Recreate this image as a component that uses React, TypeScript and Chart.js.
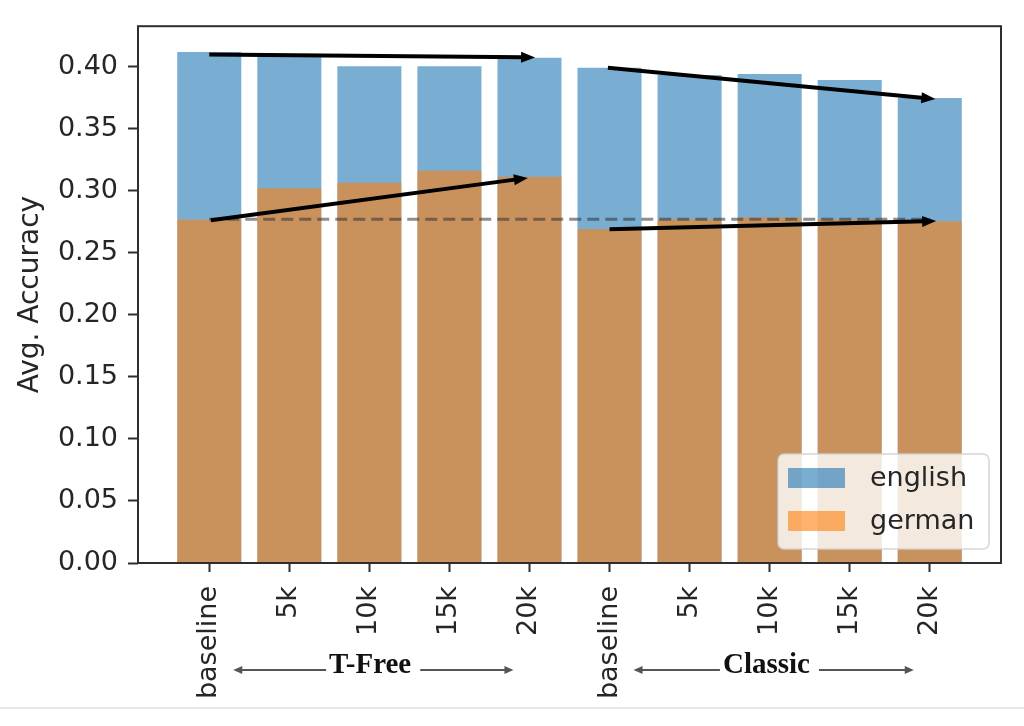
import { useEffect, useRef } from 'react';
import { Chart, registerables } from 'chart.js';

Chart.register(...registerables);

const categories = ['baseline', '5k', '10k', '15k', '20k', 'baseline', '5k', '10k', '15k', '20k'];
const englishAcc = [0.412, 0.4086, 0.4006, 0.4006, 0.4073, 0.3993, 0.3934, 0.3942, 0.3895, 0.3749];
const germanAcc = [0.2769, 0.3022, 0.3065, 0.3163, 0.3115, 0.2693, 0.2772, 0.2785, 0.2772, 0.2756];
const yTicks = [0, 0.05, 0.1, 0.15, 0.2, 0.25, 0.3, 0.35, 0.4];
const seriesNames = ['english', 'german'];
const referenceLevel = 0.2772;
const referenceSpan = [0, 9];

// trend arrows (data coordinates)
const arrowFromX = [0, 0.02, 4.98, 5.0];
const arrowFromY = [0.41, 0.2764, 0.3993, 0.269];
const arrowToX = [4.07, 3.98, 9.07, 9.08];
const arrowToY = [0.4076, 0.3105, 0.3741, 0.2757];

// group annotations under the x axis
const groupLabels = ['T-Free', 'Classic'];
const groupStart = [0.3, 5.3];
const groupEnd = [3.8, 8.8];
const groupCenter = [2.01, 6.96];

const TEXT = '#262626';
const SPINE = '#2e2e2e';
const BLUE = 'rgba(31,119,180,0.6)';
const ORANGE = 'rgba(255,127,14,0.6)';

function arrow(ctx: CanvasRenderingContext2D, x1: number, y1: number, x2: number, y2: number, lw: number, hl: number, hw: number, color: string) {
  const a = Math.atan2(y2 - y1, x2 - x1);
  const c = Math.cos(a);
  const s = Math.sin(a);
  ctx.save();
  ctx.strokeStyle = color;
  ctx.fillStyle = color;
  ctx.lineWidth = lw;
  ctx.lineCap = 'butt';
  ctx.beginPath();
  ctx.moveTo(x1, y1);
  ctx.lineTo(x2 - c * hl * 0.8, y2 - s * hl * 0.8);
  ctx.stroke();
  ctx.beginPath();
  ctx.moveTo(x2, y2);
  ctx.lineTo(x2 - c * hl - s * hw / 2, y2 - s * hl + c * hw / 2);
  ctx.lineTo(x2 - c * hl + s * hw / 2, y2 - s * hl - c * hw / 2);
  ctx.closePath();
  ctx.fill();
  ctx.restore();
}

const overlayPlugin = {
  id: 'overlay',
  afterDraw(chart: any) {
    const ctx: CanvasRenderingContext2D = chart.ctx;
    const xs = chart.scales.x;
    const ys = chart.scales.y;
    const area = chart.chartArea;

    // dashed reference line
    ctx.save();
    ctx.strokeStyle = 'rgba(50,50,50,0.55)';
    ctx.lineWidth = 3;
    ctx.setLineDash([12, 6]);
    ctx.beginPath();
    ctx.moveTo(xs.getPixelForValue(referenceSpan[0]), ys.getPixelForValue(referenceLevel));
    ctx.lineTo(xs.getPixelForValue(referenceSpan[1]), ys.getPixelForValue(referenceLevel));
    ctx.stroke();
    ctx.restore();

    // trend arrows
    for (let i = 0; i < arrowFromX.length; i++) {
      arrow(
        ctx,
        xs.getPixelForValue(arrowFromX[i]),
        ys.getPixelForValue(arrowFromY[i]),
        xs.getPixelForValue(arrowToX[i]),
        ys.getPixelForValue(arrowToY[i]),
        4, 14, 11, '#000'
      );
    }

    // spines
    ctx.save();
    ctx.strokeStyle = SPINE;
    ctx.lineWidth = 2;
    ctx.strokeRect(area.left, area.top, area.right - area.left, area.bottom - area.top);
    ctx.restore();

    // legend
    const lw = 211;
    const lh = 95;
    const lx = area.right - 12 - lw;
    const ly = area.bottom - 14 - lh;
    ctx.save();
    ctx.fillStyle = 'rgba(255,255,255,0.8)';
    ctx.strokeStyle = 'rgba(210,210,210,0.9)';
    ctx.lineWidth = 1.5;
    ctx.beginPath();
    ctx.roundRect(lx, ly, lw, lh, 6);
    ctx.fill();
    ctx.stroke();
    const colors = [BLUE, ORANGE];
    ctx.font = '27px "DejaVu Sans"';
    ctx.textBaseline = 'middle';
    ctx.textAlign = 'left';
    for (let i = 0; i < seriesNames.length; i++) {
      const cy = ly + 24 + i * 43;
      ctx.fillStyle = colors[i];
      ctx.fillRect(lx + 10, cy - 10, 57, 20);
      ctx.fillStyle = TEXT;
      ctx.fillText(seriesNames[i], lx + 92, cy + 1);
    }
    ctx.restore();

    // group annotations
    ctx.save();
    ctx.font = 'bold 29px "Liberation Serif"';
    ctx.textAlign = 'center';
    ctx.textBaseline = 'alphabetic';
    const ty = area.bottom + 110;
    const ay = area.bottom + 107;
    for (let i = 0; i < groupLabels.length; i++) {
      const cx = xs.getPixelForValue(groupCenter[i]);
      const w = ctx.measureText(groupLabels[i]).width;
      ctx.fillStyle = '#111';
      ctx.fillText(groupLabels[i], cx, ty);
      const x0 = xs.getPixelForValue(groupStart[i]);
      const x1 = xs.getPixelForValue(groupEnd[i]);
      arrow(ctx, cx - w / 2 - 3, ay, x0, ay, 1.8, 9, 8, '#555');
      arrow(ctx, cx + w / 2 + 9, ay, x1, ay, 1.8, 9, 8, '#555');
    }
    ctx.restore();

    // faint bottom border of the picture
    ctx.save();
    ctx.strokeStyle = '#e6e6e6';
    ctx.lineWidth = 2;
    ctx.beginPath();
    ctx.moveTo(0, 708);
    ctx.lineTo(chart.width, 708);
    ctx.stroke();
    ctx.restore();
  },
};

export default function App() {
  const ref = useRef<HTMLCanvasElement | null>(null);

  useEffect(() => {
    if (!ref.current) return;
    const tickFont = { family: 'DejaVu Sans', size: 27 };
    const chart = new Chart(ref.current, {
      type: 'bar',
      data: {
        datasets: [
          {
            label: seriesNames[0],
            data: englishAcc.map((v, i) => ({ x: i, y: v })),
            backgroundColor: BLUE,
            borderWidth: 0,
            grouped: false,
            barPercentage: 0.8,
            categoryPercentage: 1,
            order: 1,
          },
          {
            label: seriesNames[1],
            data: germanAcc.map((v, i) => ({ x: i, y: v })),
            backgroundColor: ORANGE,
            borderWidth: 0,
            grouped: false,
            barPercentage: 0.8,
            categoryPercentage: 1,
            order: 0,
          },
        ] as any,
      },
      options: {
        responsive: false,
        animation: false,
        devicePixelRatio: 1,
        layout: { padding: { left: 0, right: 23, top: 21, bottom: 0 } },
        plugins: { legend: { display: false }, tooltip: { enabled: false } },
        scales: {
          x: {
            type: 'linear',
            offset: false,
            min: -0.89,
            max: 9.89,
            afterBuildTicks: (s: any) => {
              s.ticks = categories.map((_, i) => ({ value: i }));
            },
            afterFit: (s: any) => {
              s.height = 163;
            },
            ticks: {
              autoSkip: false,
              minRotation: 90,
              maxRotation: 90,
              padding: 14,
              font: tickFont,
              color: TEXT,
              callback: (_v: any, i: number) => categories[i],
            },
            grid: { offset: false, drawOnChartArea: false, drawTicks: true, tickLength: 9, tickWidth: 2, color: SPINE },
            border: { display: false },
          },
          y: {
            type: 'linear',
            min: 0,
            max: 0.4328,
            afterBuildTicks: (s: any) => {
              s.ticks = yTicks.map((v) => ({ value: v }));
            },
            afterFit: (s: any) => {
              s.width = 138;
            },
            ticks: {
              padding: 10,
              font: tickFont,
              color: TEXT,
              callback: (v: any) => Number(v).toFixed(2),
            },
            grid: { drawOnChartArea: false, drawTicks: true, tickLength: 10, tickWidth: 2, color: SPINE },
            border: { display: false },
            title: {
              display: true,
              text: 'Avg. Accuracy',
              color: TEXT,
              font: { family: 'DejaVu Sans', size: 28 },
              padding: { top: 14, bottom: 0 },
            },
          },
        },
      } as any,
      plugins: [overlayPlugin],
    });
    return () => chart.destroy();
  }, []);

  return (
    <div style={{ position: 'fixed', left: 0, top: 0, width: 1024, height: 726, background: '#fff' }}>
      <canvas ref={ref} width={1024} height={726} style={{ width: 1024, height: 726, display: 'block' }} />
    </div>
  );
}
